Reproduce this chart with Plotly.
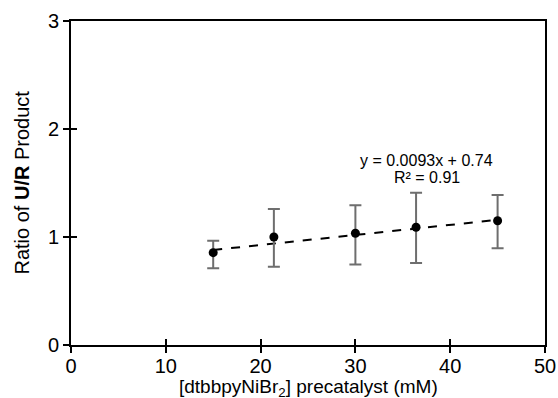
import plotly.graph_objects as go

conc = [15, 21.4, 30, 36.4, 45]
ratio = [0.855, 1.0, 1.035, 1.09, 1.15]
err_plus = [0.11, 0.26, 0.26, 0.32, 0.24]
err_minus = [0.145, 0.275, 0.29, 0.33, 0.255]
slope = 0.0093
intercept = 0.74
r_squared = 0.91
x_ticks = [0, 10, 20, 30, 40, 50]
y_ticks = [0, 1, 2, 3]

FONT = "Liberation Sans, Arial, Helvetica, sans-serif"

fit_x = [min(conc), max(conc)]
fit_y = [slope * v + intercept for v in fit_x]

fig = go.Figure()
fig.add_trace(go.Scatter(
    x=fit_x, y=fit_y, mode="lines",
    line=dict(color="black", width=2, dash="dash"),
    showlegend=False, hoverinfo="skip"))
fig.add_trace(go.Scatter(
    x=conc, y=ratio, mode="markers",
    marker=dict(color="black", size=9),
    error_y=dict(type="data", symmetric=False, array=err_plus, arrayminus=err_minus,
                 color="#6e6e6e", thickness=2, width=6),
    showlegend=False))

axis_common = dict(showgrid=False, zeroline=False, linecolor="black", linewidth=2,
                   ticks="outside", ticklen=6, tickwidth=2, tickcolor="black",
                   automargin=False,
                   tickfont=dict(family=FONT, size=20, color="black"))

fig.update_layout(
    width=558, height=398,
    margin=dict(l=71, r=13, t=21, b=53),
    plot_bgcolor="white", paper_bgcolor="white",
    font=dict(family=FONT, color="black"),
    xaxis=dict(range=[0, 50], tickvals=x_ticks, mirror=True, ticklabelstandoff=-4,
               **axis_common),
    yaxis=dict(range=[0, 3], tickvals=y_ticks, mirror=True, **axis_common),
    xaxis2=dict(range=[0, 50], tickvals=x_ticks, overlaying="x", anchor="y",
                side="bottom", showticklabels=False, showgrid=False, zeroline=False,
                ticks="inside", ticklen=6, tickwidth=2, tickcolor="black", showline=False),
    yaxis2=dict(range=[0, 3], tickvals=y_ticks, overlaying="y", anchor="x",
                side="left", showticklabels=False, showgrid=False, zeroline=False,
                ticks="inside", ticklen=6, tickwidth=2, tickcolor="black", showline=False),
    annotations=[
        dict(x=37.5, y=1.71, xref="x", yref="y", showarrow=False,
             text=f"y = {slope}x + {intercept}", font=dict(family=FONT, size=16)),
        dict(x=37.5, y=1.555, xref="x", yref="y", showarrow=False,
             text=f"R² = {r_squared}", font=dict(family=FONT, size=16)),
        dict(x=0.5, y=-0.132, xref="paper", yref="paper", showarrow=False,
             xanchor="center", yanchor="middle",
             text="[dtbbpyNiBr<sub>2</sub>] precatalyst (mM)",
             font=dict(family=FONT, size=19)),
        dict(x=-0.1044, y=0.5, xref="paper", yref="paper", showarrow=False,
             xanchor="center", yanchor="middle", textangle=-90,
             text="Ratio of <b>U/R</b> Product",
             font=dict(family=FONT, size=20)),
    ],
)
# dummy trace to activate overlay axes for crossing ticks
fig.add_trace(go.Scatter(x=[None], y=[None], xaxis="x2", yaxis="y2",
                         showlegend=False, hoverinfo="skip"))

fig.write_html("out.html", config={"displayModeBar": False},
               post_script="document.body.style.margin='0';")
